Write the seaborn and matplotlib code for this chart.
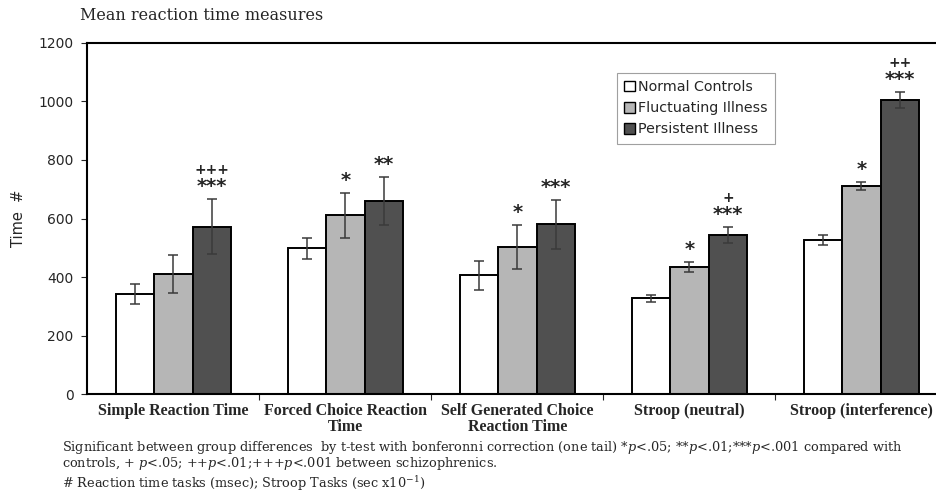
import matplotlib
matplotlib.use("Agg")
import matplotlib.pyplot as plt
import seaborn as sns
import pandas as pd
import numpy as np
from matplotlib.patches import Patch

categories = ["Simple Reaction Time", "Forced Choice Reaction\nTime",
              "Self Generated Choice\nReaction Time", "Stroop (neutral)",
              "Stroop (interference)"]
groups = ["Normal Controls", "Fluctuating Illness", "Persistent Illness"]
normal = [342, 498, 406, 328, 526]
fluct = [410, 611, 503, 434, 711]
persist = [572, 660, 580, 544, 1004]
normal_err = [33, 36, 49, 12, 16]
fluct_err = [64, 76, 76, 16, 13]
persist_err = [94, 82, 84, 26, 28]
fluct_stars = ["", "*", "*", "*", "*"]
persist_stars = ["***", "**", "***", "***", "***"]
persist_plus = ["+++", "", "", "+", "++"]
yticks = [0, 200, 400, 600, 800, 1000, 1200]

colors = ["#ffffff", "#b6b6b6", "#505050"]

sns.set_style("white")
plt.rcParams["font.family"] = ["DejaVu Sans"]
plt.rcParams["mathtext.fontset"] = "dejavuserif"

rows = []
for g, vals in zip(groups, [normal, fluct, persist]):
    for c, v in zip(categories, vals):
        rows.append({"task": c, "group": g, "value": v})
df = pd.DataFrame(rows)

fig = plt.figure(figsize=(9.37, 4.93), dpi=100)
ax = fig.add_axes([87.3 / 937, 1 - 394.3 / 493, 860 / 937, 351.6 / 493])

sns.barplot(data=df, x="task", y="value", hue="group", order=categories,
            hue_order=groups, palette=colors, width=0.672, gap=0,
            edgecolor="black", linewidth=1.4, errorbar=None, ax=ax,
            legend=False)

errs = [normal_err, fluct_err, persist_err]
vals_all = [normal, fluct, persist]
patches = ax.patches
n = len(categories)
for gi in range(3):
    for ci in range(n):
        p = patches[gi * n + ci]
        xc = p.get_x() + p.get_width() / 2
        ax.errorbar(xc, vals_all[gi][ci], yerr=errs[gi][ci], fmt="none",
                    ecolor="#3a3a3a", elinewidth=1.1, capsize=3.5,
                    capthick=1.1, zorder=5)

def mark(text, gi, ci, dy, size):
    p = patches[gi * n + ci]
    xc = p.get_x() + p.get_width() / 2
    top = vals_all[gi][ci] + errs[gi][ci]
    ax.annotate(text, (xc, top), xytext=(0, dy), textcoords="offset points",
                ha="center", va="center", fontsize=size, fontweight="bold")

for ci in range(n):
    if fluct_stars[ci]:
        mark(fluct_stars[ci], 1, ci, 9, 14)
    if persist_stars[ci]:
        mark(persist_stars[ci], 2, ci, 9, 14)
    if persist_plus[ci]:
        mark(persist_plus[ci], 2, ci, 21, 10)

ax.set_xlim(-0.5, 4.5)
ax.set_ylim(0, 1200)
ax.set_yticks(yticks)
ax.set_yticklabels([str(t) for t in yticks], fontsize=10)
ax.set_xlabel("")
ax.set_ylabel("Time  #", fontsize=10.5, labelpad=9)
ax.set_xticks(range(n))
ax.set_xticklabels(categories, fontsize=11.5, fontweight="bold",
                   family=["Liberation Serif"], linespacing=1.0)
ax.set_xticks(np.arange(0.5, n, 1.0), minor=True)
ax.tick_params(axis="x", which="major", length=0, pad=6)
ax.tick_params(axis="x", which="minor", length=4, width=0.8, direction="out",
               bottom=True)
ax.tick_params(axis="y", length=4, width=0.8, direction="out", left=True,
               pad=6)

for s in ["left", "top", "bottom"]:
    ax.spines[s].set_visible(True)
    ax.spines[s].set_color("black")
    ax.spines[s].set_linewidth(1.5)
ax.spines["right"].set_visible(False)

handles = [Patch(facecolor=c, edgecolor="black", linewidth=1.0) for c in colors]
leg = ax.legend(handles, groups, loc="upper left",
                bbox_to_anchor=((617 - 87.3) / 860, (394.3 - 73) / 351.6),
                borderaxespad=0, frameon=True, fancybox=False,
                fontsize=10.3, handlelength=0.75, handleheight=0.75,
                handletextpad=0.2, labelspacing=0.5, borderpad=0.5)
leg.get_frame().set_edgecolor("#888888")
leg.get_frame().set_linewidth(0.8)

fig.text(80 / 937, 1 - 15 / 493, "Mean reaction time measures",
         family="DejaVu Serif", fontsize=11.5, va="center", ha="left")

serif = "DejaVu Serif"
fig.text(62 / 937, 1 - 447 / 493,
         "Significant between group differences  by t-test with bonferonni correction (one tail) *$p$<.05; **$p$<.01;***$p$<.001 compared with",
         family=serif, fontsize=9.3, va="center", ha="left")
fig.text(62 / 937, 1 - 463 / 493,
         "controls, + $p$<.05; ++$p$<.01;+++$p$<.001 between schizophrenics.",
         family=serif, fontsize=9.3, va="center", ha="left")
fig.text(62 / 937, 1 - 484 / 493,
         "# Reaction time tasks (msec); Stroop Tasks (sec x10$^{-1}$)",
         family=serif, fontsize=9.3, va="center", ha="left")

fig.savefig("out.png", dpi=100)
